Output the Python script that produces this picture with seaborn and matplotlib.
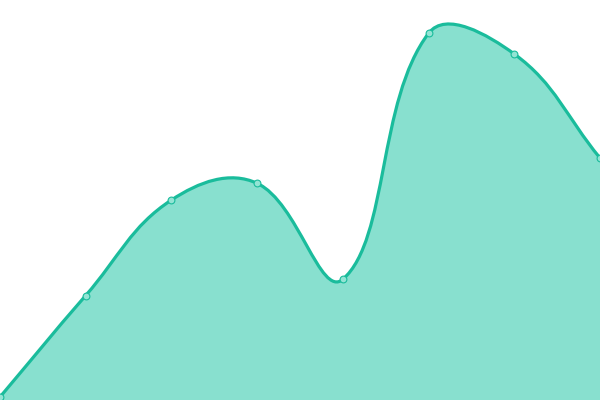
import numpy as np
import matplotlib
matplotlib.use("Agg")
import matplotlib.pyplot as plt
from matplotlib.path import Path
from matplotlib.patches import PathPatch
import seaborn as sns
import pandas as pd

# data
categories = ["A", "B", "C", "D", "E", "F", "G", "H"]
values = [3, 104.5, 200, 216.7, 120.7, 366.7, 346, 242]

LINE = "#1abc9c"
FILL = "#88e0cf"
MARK = "#93e4d4"

sns.set_theme(style="white")

W, H = 600, 400
fig = plt.figure(figsize=(6, 4), dpi=100)
ax = fig.add_axes([0, 0, 1, 1])
n = len(categories)
ax.set_xlim(0, n - 1)
ax.set_ylim(0, 400)
ax.set_axis_off()

# pixel-space positions for Chart.js-like spline control points (tension 0.4)
xs = np.arange(n, dtype=float)
sx = W / (n - 1)
px = xs * sx
py = np.array(values, dtype=float)
tension = 0.4
cp_prev, cp_next = [], []
for i in range(n):
    cur = np.array([px[i], py[i]])
    prev = np.array([px[i - 1], py[i - 1]]) if i > 0 else cur
    nxt = np.array([px[i + 1], py[i + 1]]) if i < n - 1 else cur
    d01 = np.hypot(*(cur - prev))
    d12 = np.hypot(*(nxt - cur))
    tot = d01 + d12
    s01 = d01 / tot if tot else 0
    s12 = d12 / tot if tot else 0
    fa, fb = tension * s01, tension * s12
    cp_prev.append(cur - fa * (nxt - prev))
    cp_next.append(cur + fb * (nxt - prev))

def to_data(p):
    return (p[0] / sx, p[1])

verts = [to_data((px[0], py[0]))]
codes = [Path.MOVETO]
for i in range(n - 1):
    verts += [to_data(cp_next[i]), to_data(cp_prev[i + 1]), to_data((px[i + 1], py[i + 1]))]
    codes += [Path.CURVE4] * 3

line_path = Path(verts, codes)
fill_verts = verts + [(xs[-1], 0), (xs[0], 0), verts[0]]
fill_codes = codes + [Path.LINETO, Path.LINETO, Path.CLOSEPOLY]
ax.add_patch(PathPatch(Path(fill_verts, fill_codes), facecolor=FILL, edgecolor="none", zorder=1))
ax.add_patch(PathPatch(line_path, facecolor="none", edgecolor=LINE, lw=2.3, zorder=2,
                       capstyle="round", joinstyle="round"))

df = pd.DataFrame({"x": xs, "y": values})
sns.scatterplot(data=df, x="x", y="y", ax=ax, s=24, color=MARK, edgecolor=LINE,
                linewidth=0.8, zorder=3, clip_on=False)
ax.set_xlim(0, n - 1)
ax.set_ylim(0, 400)
ax.set_axis_off()

fig.savefig("out.png", dpi=100)
